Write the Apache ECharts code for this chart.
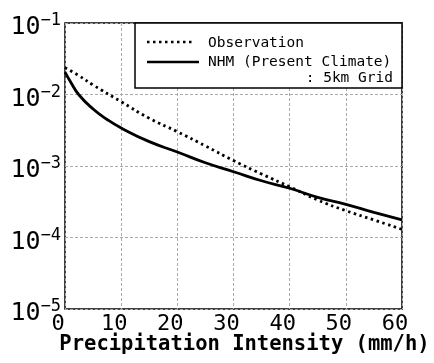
<!DOCTYPE html>
<head>
    <meta charset="utf-8"/>
    <style>
        html,body { height:100%; width:100%; margin:0; padding:0; background:#fff; }
    </style>
</head>
<body>

<div id="chart" style="width:434px;height:363px;"></div>

<script src="https://cdn.jsdelivr.net/npm/echarts@6/dist/echarts.min.js"></script>
<script type="text/javascript">

 // observation (dotted)
 var obsX = [0, 2.5, 5, 10, 15, 20, 25, 30, 35, 40, 45, 50, 55, 60];
 var obsY = [0.0237, 0.0183, 0.0136, 0.00793, 0.00465, 0.00302, 0.00191, 0.00119, 0.000773, 0.000513, 0.000334, 0.000237, 0.000176, 0.000130];

 // NHM present climate, 5km grid (solid)
 var nhmX = [0, 1, 2.5, 5, 7.5, 10, 15, 20, 25, 30, 35, 40, 45, 50, 55, 60];
 var nhmY = [0.0206, 0.0150, 0.00984, 0.00627, 0.00447, 0.00340, 0.00219, 0.00157, 0.00111, 0.000832, 0.000622, 0.000488, 0.000365, 0.000291, 0.000225, 0.000176];

 var xTicks = [0, 10, 20, 30, 40, 50, 60];
 var yExp = [-1, -2, -3, -4, -5];

 var monoFont = 'DejaVu Sans Mono';

 function pairs(xs, ys) {
     var out = [];
     for (var i = 0; i < xs.length; i++) out.push([xs[i], ys[i]]);
     return out;
 }

 // 10^n label for log axis
 function yLabel(value) {
     var e = Math.round(Math.log(value) / Math.LN10);
     if (yExp.indexOf(e) < 0) return '';
     return '{b|10}{s|\u2212' + Math.abs(e) + '}';
 }

 var myChart = echarts.init(document.getElementById('chart'));

 var option = {
     animation: false,
     grid: {
         left: 65, right: 32, top: 23, bottom: 54,
         outerBoundsMode: 'none',
         containLabel: false,
         show: true,
         borderColor: '#000',
         borderWidth: 1.5,
         backgroundColor: 'transparent'
     },
     xAxis: {
         type: 'value',
         min: 0, max: 60, interval: 10,
         axisLine: { show: false },
         axisTick: { show: false },
         splitLine: { lineStyle: { color: '#aaa', type: [3, 2], width: 1 } },
         axisLabel: {
             margin: 4,
             padding: [0, 14, 0, 0],
             fontFamily: monoFont,
             fontSize: 22,
             color: '#000',
             formatter: function (v) { return xTicks.indexOf(v) >= 0 ? String(v) : ''; }
         },
         name: 'Precipitation Intensity (mm/h)',
         nameLocation: 'middle',
         nameGap: 25,
         nameMoveOverlap: false,
         nameTextStyle: {
             fontFamily: monoFont,
             fontSize: 20.5,
             fontWeight: 'bold',
             color: '#000',
             padding: [0, 0, 0, 22]
         }
     },
     yAxis: {
         type: 'log',
         logBase: 10,
         min: 1e-5, max: 1e-1,
         axisLine: { show: false },
         axisTick: { show: false },
         splitLine: { lineStyle: { color: '#aaa', type: [3, 2], width: 1 } },
         axisLabel: {
             margin: 4,
             padding: [9, 0, 0, 0],
             color: '#000',
             formatter: yLabel,
             rich: {
                 b: { fontFamily: monoFont, fontSize: 25, lineHeight: 30, color: '#000' },
                 s: { fontFamily: monoFont, fontSize: 17, lineHeight: 17, verticalAlign: 'top', color: '#000' }
             }
         }
     },
     series: [
         {
             name: 'Observation',
             type: 'line',
             data: pairs(obsX, obsY),
             smooth: true,
             showSymbol: false,
             lineStyle: { color: '#000', width: 2.8, type: [2.5, 3.5] },
             z: 3
         },
         {
             name: 'NHM (Present Climate) : 5km Grid',
             type: 'line',
             data: pairs(nhmX, nhmY),
             smooth: true,
             showSymbol: false,
             lineStyle: { color: '#000', width: 2.8, type: 'solid' },
             z: 3
         }
     ],
     // legend box drawn by hand, as in the figure
     graphic: [
         { type: 'rect', z: 10, shape: { x: 135, y: 23, width: 267, height: 65 },
           style: { fill: '#fff', stroke: '#000', lineWidth: 1.5 } },
         { type: 'line', z: 11, shape: { x1: 147, y1: 42, x2: 194, y2: 42 },
           style: { stroke: '#000', lineWidth: 2.5, lineDash: [2.5, 3.5] } },
         { type: 'line', z: 11, shape: { x1: 147, y1: 62, x2: 199, y2: 62 },
           style: { stroke: '#000', lineWidth: 2.5 } },
         { type: 'text', z: 11, x: 208, y: 43,
           style: { text: 'Observation', font: '14.5px "DejaVu Sans Mono"', fill: '#000', textVerticalAlign: 'middle' } },
         { type: 'text', z: 11, x: 208, y: 62,
           style: { text: 'NHM (Present Climate)', font: '14.5px "DejaVu Sans Mono"', fill: '#000', textVerticalAlign: 'middle' } },
         { type: 'text', z: 11, x: 393, y: 78,
           style: { text: ': 5km Grid', font: '14.5px "DejaVu Sans Mono"', fill: '#000', textAlign: 'right', textVerticalAlign: 'middle' } }
     ]
 };

 myChart.setOption(option);

</script>
</body>
